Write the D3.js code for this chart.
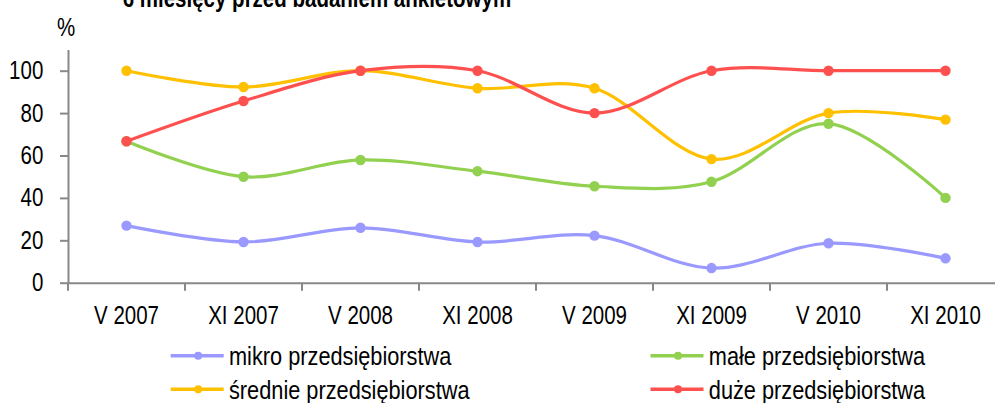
<!DOCTYPE html>
<html>
<head>
<meta charset="utf-8">
<script src="https://cdn.jsdelivr.net/npm/d3@7"></script>
<style>
  body { margin: 0; background: #fff; }
  svg { display: block; }
  text { font-family: "Liberation Sans", Arial, sans-serif; fill: #000; }
</style>
</head>
<body>
<svg id="chart" width="995" height="403"></svg>
<script>
// Survey waves
const categories = ["V 2007", "XI 2007", "V 2008", "XI 2008", "V 2009", "XI 2009", "V 2010", "XI 2010"];

// Share of firms (%) by company size
const mikro   = [26.9, 19.2, 25.9, 19.2, 22.2, 6.9, 18.6, 11.5];
const male    = [66.7, 50.0, 57.9, 52.6, 45.5, 47.6, 75.0, 40.0];
const srednie = [100, 92.3, 100, 91.7, 91.7, 58.3, 80.0, 76.9];
const duze    = [66.7, 85.7, 100, 100, 80.0, 100, 100, 100];

const seriesNames  = ["mikro przedsiębiorstwa", "małe przedsiębiorstwa", "średnie przedsiębiorstwa", "duże przedsiębiorstwa"];
const seriesValues = [mikro, male, srednie, duze];
const seriesColors = ["#9999ff", "#92d050", "#ffc000", "#ff5050"];

const yTicks = [0, 20, 40, 60, 80, 100];
const yMax = 110;
const titleText = "6 miesięcy przed badaniem ankietowym";
const unitLabel = "%";

// Layout
const plot = { left: 68, top: 49.5, bottom: 282.7, step: 117 };
const squeeze = 0.82;             // narrow type face
const axisColor = "#888888";

const svg = d3.select("#chart");

const x = d3.scaleBand()
  .domain(categories)
  .range([plot.left, plot.left + plot.step * categories.length])
  .padding(0);
const cx = c => x(c) + x.bandwidth() / 2;

const y = d3.scaleLinear().domain([0, yMax]).range([plot.bottom, plot.top]);

// Title (only its lower line fits inside the frame)
svg.append("text")
  .attr("transform", `translate(122.7,7) scale(${squeeze},1)`)
  .attr("font-size", 25)
  .attr("font-weight", "bold")
  .text(titleText);

// Unit label above the value axis
svg.append("text")
  .attr("transform", `translate(66,36) scale(${squeeze},1)`)
  .attr("text-anchor", "middle")
  .attr("font-size", 25)
  .text(unitLabel);

// Value axis
const yAxis = svg.append("g")
  .attr("transform", `translate(${plot.left},0)`)
  .call(d3.axisLeft(y).tickValues(yTicks).tickSize(8).tickSizeOuter(0).tickFormat(d3.format("d")));
yAxis.select(".domain").attr("stroke", axisColor).attr("stroke-width", 2);
yAxis.selectAll(".tick line").attr("stroke", axisColor).attr("stroke-width", 2);
yAxis.selectAll(".tick text")
  .attr("x", null)
  .attr("font-size", 25)
  .attr("fill", "#000")
  .attr("transform", `translate(-24.7,0) scale(${squeeze},1)`);

// Category axis
const xAxis = svg.append("g")
  .attr("transform", `translate(0,${plot.bottom})`)
  .call(d3.axisBottom(x).tickSize(0).tickSizeOuter(0));
xAxis.select(".domain").attr("stroke", axisColor).attr("stroke-width", 2);
xAxis.selectAll(".tick text")
  .attr("y", null).attr("dy", null)
  .attr("font-size", 25)
  .attr("fill", "#000")
  .attr("transform", `translate(0,41.6) scale(${squeeze},1)`);

// Tick marks between categories
const edges = categories.map(c => x(c)).concat([x.range()[1]]);
svg.append("g").selectAll("line")
  .data(edges)
  .join("line")
  .attr("x1", d => d).attr("x2", d => d)
  .attr("y1", plot.bottom).attr("y2", plot.bottom + 8)
  .attr("stroke", axisColor).attr("stroke-width", 2);

// Smoothed series lines with markers
const line = d3.line()
  .x((d, i) => cx(categories[i]))
  .y(d => y(d))
  .curve(d3.curveCardinal.tension(0));

const series = svg.append("g").selectAll("g")
  .data(seriesValues)
  .join("g");

series.append("path")
  .attr("d", d => line(d))
  .attr("fill", "none")
  .attr("stroke", (d, i) => seriesColors[i])
  .attr("stroke-width", 3.2)
  .attr("stroke-linejoin", "round");

series.each(function (vals, si) {
  d3.select(this).selectAll("circle")
    .data(vals)
    .join("circle")
    .attr("cx", (d, i) => cx(categories[i]))
    .attr("cy", d => y(d))
    .attr("r", 5.2)
    .attr("fill", seriesColors[si]);
});

// Legend (2 x 2)
const legendCols = [170.7, 650.5];
const legendRows = [355.7, 389.3];
const legend = svg.append("g").selectAll("g")
  .data(seriesNames)
  .join("g")
  .attr("transform", (d, i) => `translate(${legendCols[i % 2]},${legendRows[Math.floor(i / 2)]})`);

legend.append("line")
  .attr("x1", 0).attr("x2", 53)
  .attr("y1", 0).attr("y2", 0)
  .attr("stroke", (d, i) => seriesColors[i])
  .attr("stroke-width", 3.5);
legend.append("circle")
  .attr("cx", 27.5).attr("cy", 0).attr("r", 4)
  .attr("fill", (d, i) => seriesColors[i]);
legend.append("text")
  .attr("transform", `translate(58.3,9.5) scale(0.87,1)`)
  .attr("font-size", 25)
  .text(d => d);
</script>
</body>
</html>
